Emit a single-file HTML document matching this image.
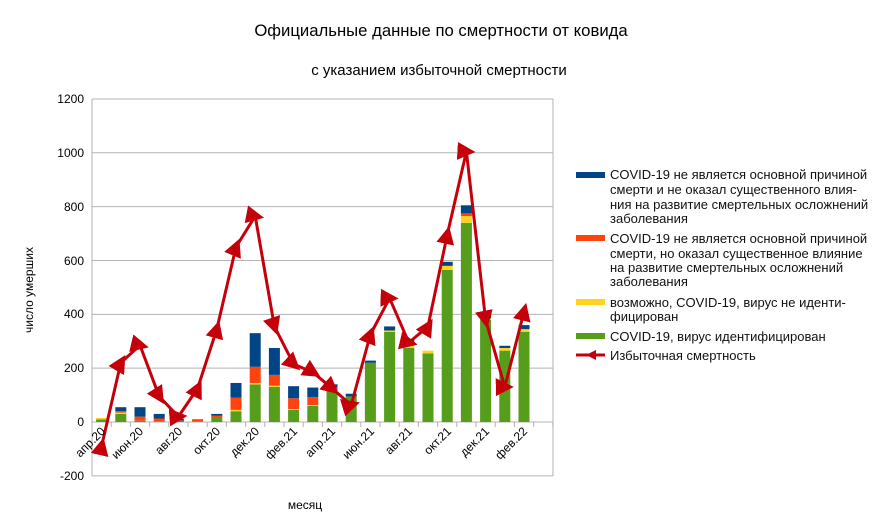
<!DOCTYPE html>
<html><head><meta charset="utf-8"><style>
body{margin:0;background:#fff}
svg{display:block;font-family:"Liberation Sans",sans-serif}
</style></head><body>
<svg id="s" width="882" height="532" viewBox="0 0 882 532" xmlns="http://www.w3.org/2000/svg">
<defs><marker id="m" viewBox="0 0 10 10" refX="5" refY="5" markerWidth="6" markerHeight="6" orient="auto"><path d="M0,0 L10,5 L0,10 z" fill="#c5000b"/></marker></defs>
<text x="441" y="36" font-size="16.7" text-anchor="middle">Официальные данные по смертности от ковида</text>
<text x="439" y="75" font-size="15" text-anchor="middle">с указанием избыточной смертности</text>
<g id="grid" stroke="#b3b3b3" stroke-width="1"></g>
<g font-size="12" text-anchor="end">
<text x="84" y="103">1200</text><text x="84" y="157">1000</text><text x="84" y="211">800</text><text x="84" y="265">600</text><text x="84" y="318">400</text><text x="84" y="372">200</text><text x="84" y="426">0</text><text x="84" y="480">-200</text>
</g>
<text transform="translate(33,290) rotate(-90)" font-size="12" text-anchor="middle">число умерших</text>
<text x="305" y="509" font-size="12" text-anchor="middle">месяц</text>
<g id="bars"></g>
<g id="xl" font-size="12" text-anchor="end">
<text transform="translate(106,432) rotate(-45)">апр.20</text>
<text transform="translate(144,432) rotate(-45)">июн.20</text>
<text transform="translate(183,432) rotate(-45)">авг.20</text>
<text transform="translate(221,432) rotate(-45)">окт.20</text>
<text transform="translate(260,432) rotate(-45)">дек.20</text>
<text transform="translate(298,432) rotate(-45)">фев.21</text>
<text transform="translate(336,432) rotate(-45)">апр.21</text>
<text transform="translate(375,432) rotate(-45)">июн.21</text>
<text transform="translate(413,432) rotate(-45)">авг.21</text>
<text transform="translate(452,432) rotate(-45)">окт.21</text>
<text transform="translate(490,432) rotate(-45)">дек.21</text>
<text transform="translate(528,432) rotate(-45)">фев.22</text>
</g>
<g font-size="13" fill="#111">
<rect x="576" y="172" width="29" height="6" fill="#004586"/>
<text x="610" y="179">COVID-19 не является основной причиной</text>
<text x="610" y="194">смерти и не оказал существенного влия-</text>
<text x="610" y="209">ния на развитие смертельных осложнений</text>
<text x="610" y="223">заболевания</text>
<rect x="576" y="235" width="29" height="6" fill="#ff420e"/>
<text x="610" y="243">COVID-19 не является основной причиной</text>
<text x="610" y="258">смерти, но оказал существенное влияние</text>
<text x="610" y="272">на развитие смертельных осложнений</text>
<text x="610" y="286">заболевания</text>
<rect x="576" y="299" width="29" height="6" fill="#ffd320"/>
<text x="610" y="307">возможно, COVID-19, вирус не иденти-</text>
<text x="610" y="321">фицирован</text>
<rect x="576" y="333" width="29" height="6" fill="#579d1c"/>
<text x="610" y="341">COVID-19, вирус идентифицирован</text>
<line x1="576" y1="355" x2="605" y2="355" stroke="#c5000b" stroke-width="3"/>
<path d="M586,355 L596,350 L596,360 z" fill="#c5000b"/>
<text x="610" y="360">Избыточная смертность</text>
</g>
</svg>
<script>
var ns="http://www.w3.org/2000/svg",X0=92,W=19.2,Y0=422,K=0.2692;
function y(v){return Y0-v*K}
function el(p,t,a){var e=document.createElementNS(ns,t);for(var k in a)e.setAttribute(k,a[k]);p.appendChild(e);return e}
var g=document.getElementById('grid');
for(var v=-200;v<=1200;v+=200){el(g,'line',{x1:X0,x2:553,y1:y(v),y2:y(v)})}
el(g,'line',{x1:X0,x2:X0,y1:99,y2:476});el(g,'line',{x1:553,x2:553,y1:99,y2:476});
for(var i=0;i<=24;i++){var xx=X0+i*W;el(g,'line',{x1:xx,x2:xx,y1:422,y2:427})}
var d=[[10,5,0,0],[30,5,5,15],[5,0,15,35],[3,0,10,17],[0,0,5,7],[3,0,5,2],[15,0,8,7],[40,5,45,55],[140,5,60,125],[130,5,40,100],[45,3,40,45],[60,3,30,35],[115,3,10,12],[95,0,0,10],[220,0,0,8],[335,5,0,15],[275,15,0,15],[255,10,0,0],[565,15,0,15],[740,25,10,30],[380,5,0,25],[265,10,0,8],[335,10,0,15]];
var L=[-90,220,285,95,20,125,345,650,765,355,215,185,125,63,325,460,295,355,695,1005,380,130,410];
var c=['#579d1c','#ffd320','#ff420e','#004586'],b=document.getElementById('bars');
d.forEach(function(r,i){var cx=X0+W*(i+.5),s=0;r.forEach(function(v,j){if(v>0){el(b,'rect',{x:cx-5.5,y:y(s+v),width:11,height:v*K,fill:c[j]});s+=v}})});
var pts=L.map(function(v,i){return (X0+W*(i+.5))+','+y(v)}).join(' ');
el(b,'polyline',{points:pts,fill:'none',stroke:'#c5000b','stroke-width':3,'stroke-linejoin':'round','marker-start':'url(#m)','marker-mid':'url(#m)','marker-end':'url(#m)'});
</script>
</body></html>
